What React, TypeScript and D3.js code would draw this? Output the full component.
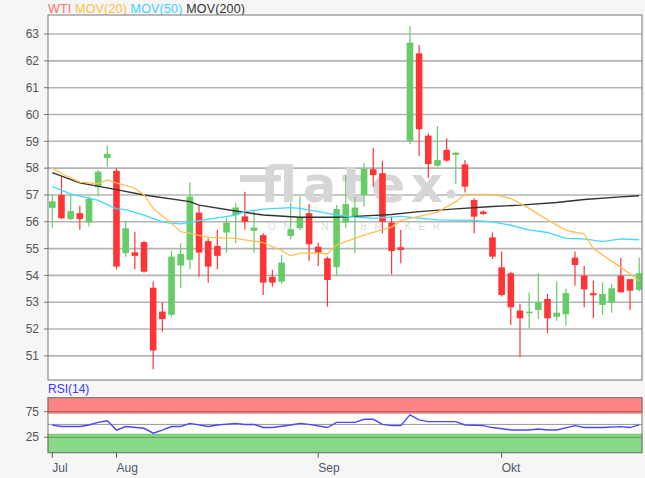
import React from "react";
import * as d3 from "d3";

// ---- data ----
const opens = [56.52,57.0,56.1,56.32,55.98,57.29,58.38,57.9,54.83,54.86,55.24,53.54,52.65,52.53,54.37,54.58,56.34,55.28,55.1,55.6,56.25,56.2,55.66,55.5,53.95,53.77,55.47,55.76,56.32,55.07,54.64,54.31,55.97,56.22,57.0,57.96,57.81,55.97,55.05,59.02,62.28,59.21,58.09,58.68,58.49,58.14,56.81,56.38,55.42,54.3,54.08,52.69,52.59,52.71,53.12,52.46,52.55,54.66,53.99,53.34,52.9,52.99,53.99,53.86,53.46];
const highs = [57.0,57.68,57.0,56.6,56.94,57.93,58.83,58.0,56.04,55.63,55.28,53.77,53.0,54.92,55.2,57.47,56.59,55.38,55.7,56.15,56.69,57.12,56.44,55.57,54.2,54.76,56.71,56.94,56.66,55.22,54.7,56.63,57.75,56.94,58.18,58.76,58.27,56.19,55.7,63.3,62.59,59.3,59.57,59.11,58.61,58.3,56.88,56.42,55.6,54.89,54.14,52.94,53.36,54.08,53.31,53.77,53.5,54.89,54.35,53.81,53.74,53.68,54.66,53.86,54.66];
const lows = [55.77,56.1,56.07,55.7,55.82,56.94,58.05,54.23,54.7,54.23,54.1,50.5,51.9,52.44,53.52,54.23,53.95,53.73,54.23,54.85,55.2,55.7,54.85,53.27,53.58,53.68,55.35,55.7,54.54,54.35,52.84,54.02,55.76,54.83,56.56,57.31,55.57,54.04,54.45,58.9,58.45,57.62,58.05,58.24,57.41,57.09,55.57,56.25,54.61,53.21,52.15,50.97,52.03,52.37,51.84,52.31,52.13,53.61,52.81,52.4,52.53,52.61,53.36,52.71,53.4];
const closes = [56.76,56.13,56.4,56.1,56.85,57.87,58.53,54.33,55.76,54.73,54.14,51.2,52.37,54.7,54.8,56.94,54.85,54.33,54.73,55.97,56.53,56.0,55.78,53.73,53.73,54.48,55.72,56.15,55.16,54.85,53.83,56.48,56.66,56.53,57.97,57.74,56.0,54.91,54.95,62.68,59.45,58.15,58.3,58.28,58.58,57.31,56.19,56.29,54.7,53.27,52.81,52.4,52.65,53.0,52.4,52.61,53.34,54.39,53.48,53.26,53.31,53.52,53.37,53.43,54.08];

// moving averages: [day index, value]
const ma20: [number, number][] = [[0,58.0],[1,57.8],[3,57.48],[5,57.42],[6,57.56],[7,57.45],[9,57.25],[10,57.0],[11,56.5],[13,55.94],[14,55.63],[15,55.57],[17,55.42],[20,55.38],[23,55.22],[25,54.93],[26,54.73],[27,54.83],[29,54.83],[30,54.8],[31,55.14],[34,55.5],[35,55.6],[37,55.8],[38,56.05],[40,56.2],[42,56.36],[44,56.75],[45,57.02],[48,57.02],[50,56.87],[52,56.5],[54,56.07],[56,55.68],[58,55.55],[59,55.0],[62,54.3],[64,53.8]];
const ma50: [number, number][] = [[0,57.31],[2,57.04],[5,56.8],[7,56.48],[8,56.45],[10,56.25],[12,56.0],[13,55.95],[14,55.92],[15,55.98],[16,56.04],[20,56.25],[21,56.38],[23,56.47],[26,56.53],[27,56.5],[29,56.38],[31,56.25],[33,56.17],[35,56.13],[38,56.2],[42,56.07],[46,56.05],[48,56.0],[50,55.87],[52,55.7],[54,55.6],[56,55.38],[58,55.36],[60,55.26],[62,55.36],[64,55.33]];
const ma200: [number, number][] = [[0,57.83],[3,57.45],[7,57.2],[10,57.0],[15,56.75],[16,56.62],[20,56.4],[23,56.25],[27,56.17],[31,56.17],[33,56.2],[37,56.27],[40,56.38],[44,56.48],[48,56.57],[51,56.62],[55,56.72],[58,56.83],[62,56.93],[64,56.97]];
const rsi: [number, number][] = [[0,49],[1,46],[3,46],[4,49],[5,54],[6,57],[7,39],[8,46],[10,42.5],[11,33],[12,39],[13,46],[14,46],[15,52],[17,46],[18,49],[20,52],[21,50],[22,50],[23,44],[24,44],[26,49],[27,52],[28,50],[30,44],[31,54],[33,54],[34,60],[35,60],[36,50],[37,47.7],[38,47.7],[39,68.6],[40,58.8],[41,55.5],[44,55.5],[45,49],[47,47.7],[48,43.9],[50,39.3],[52,39.3],[53,41.2],[54,39.3],[55,39.3],[57,47.7],[58,44],[60,44],[62,45.8],[63,43.9],[64,49]];

const yTicks = [51,52,53,54,55,56,57,58,59,60,61,62,63];
const rsiTicks = [75, 25];
const monthLabels = ["Jul", "Aug", "Sep", "Okt"];
const monthStartIdx = [0, 7, 29, 49];

const legendTexts = ["WTI", "MOV(20)", "MOV(50)", "MOV(200)"];
const legendColors = ["#ff7060", "#ffbb40", "#40d0ff", "#333333"];

export default function App() {
  const W = 645, H = 478;
  const L = 48, R = 642, T = 15, B = 380;
  const rT = 397.7, rB = 452.7;
  const x = d3.scaleLinear().domain([0, 64]).range([52.3, 639.2]);
  const y = d3.scaleLinear().domain([50.1, 63.71]).range([B, T]);
  const yr = d3.scaleLinear().domain([-5, 102]).range([rB, rT]);
  const font = "Arial, 'Liberation Sans', sans-serif";
  const green = "#66cc66", red = "#ff3535";
  const line = d3.line<[number, number]>().x(d => x(d[0])).y(d => y(d[1]));
  const rline = d3.line<[number, number]>().x(d => x(d[0])).y(d => yr(d[1]));
  const bw = 6.6;

  return (
    <svg width={W} height={H} style={{ position: "absolute", left: 0, top: 0, background: "#f6f6f6" }}>
      <defs>
        <clipPath id="mainclip"><rect x={L} y={T} width={R - L} height={B - T} /></clipPath>
        <clipPath id="rsiclip"><rect x={L} y={rT} width={R - L} height={rB - rT} /></clipPath>
      </defs>
      <text x={L} y={12.5} fontSize={12.5} fontFamily={font} textLength={197} lengthAdjust="spacing">
        {legendTexts.map((t, i) => (
          <tspan key={i} fill={legendColors[i]}>{(i > 0 ? " " : "") + t}</tspan>
        ))}
      </text>
      <rect x={L} y={T} width={R - L} height={B - T} fill="#fff" />
      {yTicks.map(t => (
        <g key={t}>
          <line x1={L} x2={R} y1={y(t)} y2={y(t)} stroke="#b4b4b4" strokeWidth={1.6} />
          <line x1={L - 4} x2={L} y1={y(t)} y2={y(t)} stroke="#777" strokeWidth={1} />
          <text x={39} y={y(t)} dy="0.35em" textAnchor="end" fontSize={12} fill="#555" fontFamily={font}>{t}</text>
        </g>
      ))}
      {/* watermark */}
      <g fill="#d6d6d6">
        <rect x={240} y={175} width={28} height={7} />
        <text x={260} y={202} fontSize={50} fontWeight="bold" fontFamily="'DejaVu Sans', sans-serif" textLength={183} lengthAdjust="spacing">flatex</text>
        <circle cx={451} cy={194} r={4.5} />
        <text x={268} y={230} fontSize={10} fontFamily={font} textLength={172} lengthAdjust="spacing" fill="#dcdcdc">ONLINE BROKER</text>
      </g>
      <g clipPath="url(#mainclip)">
        {closes.map((c, i) => {
          const o = opens[i];
          const col = c >= o ? green : red;
          const top = y(Math.max(o, c)), bot = y(Math.min(o, c));
          return (
            <g key={i}>
              <line x1={x(i)} x2={x(i)} y1={y(highs[i])} y2={y(lows[i])} stroke={col} strokeWidth={1.2} />
              <rect x={x(i) - bw / 2} y={top} width={bw} height={Math.max(1.5, bot - top)} fill={col} />
            </g>
          );
        })}
        <path d={line(ma200) || ""} fill="none" stroke="#333" strokeWidth={1.4} />
        <path d={line(ma50) || ""} fill="none" stroke="#40d8ff" strokeWidth={1.3} />
        <path d={line(ma20) || ""} fill="none" stroke="#ffc050" strokeWidth={1.3} />
      </g>
      <rect x={L} y={T} width={R - L} height={B - T} fill="none" stroke="#777" strokeWidth={1} />

      {/* RSI panel */}
      <text x={L} y={393} fill="#3838ff" fontSize={12} fontFamily={font}>RSI(14)</text>
      <rect x={L} y={rT} width={R - L} height={rB - rT} fill="#fff" />
      <rect x={L} y={yr(102)} width={R - L} height={yr(72) - yr(102)} fill="#ff8585" stroke="#d46a6a" strokeWidth={0.8} />
      <rect x={L} y={yr(31)} width={R - L} height={yr(-5) - yr(31)} fill="#88d888" stroke="#6ab46a" strokeWidth={0.8} />
      <line x1={L} x2={R} y1={yr(75)} y2={yr(75)} stroke="#b86060" strokeWidth={1} />
      <line x1={L} x2={R} y1={yr(25)} y2={yr(25)} stroke="#5a9a5a" strokeWidth={1} />
      <line x1={L} x2={R} y1={yr(50)} y2={yr(50)} stroke="#999" strokeWidth={1} />
      {rsiTicks.map(t => (
        <g key={t}>
          <line x1={L - 4} x2={L} y1={yr(t)} y2={yr(t)} stroke="#777" />
          <text x={39} y={yr(t)} dy="0.35em" textAnchor="end" fontSize={12} fill="#555" fontFamily={font}>{t}</text>
        </g>
      ))}
      <g clipPath="url(#rsiclip)">
        <path d={rline(rsi) || ""} fill="none" stroke="#4848ff" strokeWidth={1.4} />
      </g>
      <rect x={L} y={rT} width={R - L} height={rB - rT} fill="none" stroke="#777" strokeWidth={1} />
      {monthStartIdx.map((idx, i) => (
        <g key={i}>
          <line x1={x(idx)} x2={x(idx)} y1={rB} y2={rB + 5} stroke="#556" strokeWidth={1} />
          <text x={x(idx)} y={472} fontSize={12} fill="#4a5868" fontFamily={font}>{monthLabels[i]}</text>
        </g>
      ))}
    </svg>
  );
}
